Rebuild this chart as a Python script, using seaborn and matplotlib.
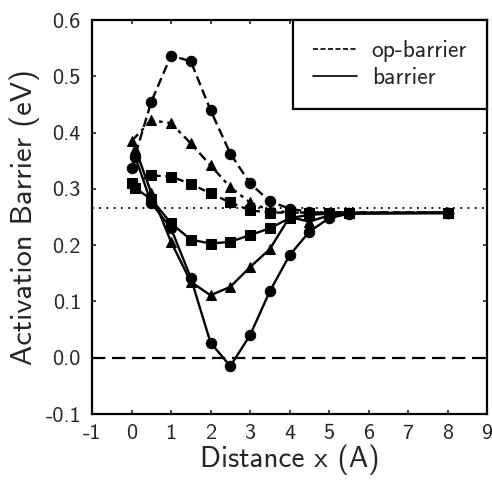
import numpy as np
import pandas as pd
import seaborn as sns
import matplotlib.pyplot as plt
from matplotlib.lines import Line2D

sns.set_style("ticks")
plt.rcParams['font.family'] = ['cmss10', 'DejaVu Sans']
plt.rcParams['axes.unicode_minus'] = False
plt.rcParams['axes.formatter.use_mathtext'] = False

# op-barrier (dashed) series
x_op = [0, 0.5, 1, 1.5, 2, 2.5, 3, 3.5, 4, 4.5, 5, 5.5, 8]
op_circle = [0.338, 0.455, 0.537, 0.527, 0.440, 0.363, 0.310, 0.278, 0.265, 0.259, 0.258, 0.258, 0.258]
op_triangle = [0.385, 0.422, 0.417, 0.381, 0.342, 0.303, 0.276, 0.262, 0.258, 0.258, 0.258, 0.258, 0.258]
op_square = [0.310, 0.324, 0.322, 0.309, 0.292, 0.276, 0.262, 0.258, 0.258, 0.258, 0.258, 0.258, 0.258]

# barrier (solid) series
x_b = [0.1, 0.5, 1, 1.5, 2, 2.5, 3, 3.5, 4, 4.5, 5, 5.5, 8]
b_circle = [0.356, 0.275, 0.230, 0.142, 0.027, -0.015, 0.040, 0.118, 0.182, 0.224, 0.248, 0.256, 0.258]
b_triangle = [0.371, 0.293, 0.206, 0.135, 0.111, 0.126, 0.161, 0.193, 0.250, 0.242, 0.253, 0.257, 0.257]
b_square = [0.301, 0.282, 0.239, 0.210, 0.203, 0.206, 0.218, 0.230, 0.248, 0.254, 0.256, 0.257, 0.257]

ref_level = 0.267

fig = plt.figure(figsize=(4.92, 4.80), dpi=100)
ax = fig.add_axes([0.187, 0.1375, 0.803, 0.8205])

series = [
    (x_op, op_circle, 'o', (0, (4, 2))),
    (x_op, op_triangle, '^', (0, (4, 2, 1.5, 2))),
    (x_op, op_square, 's', (0, (3, 2))),
    (x_b, b_circle, 'o', '-'),
    (x_b, b_triangle, '^', '-'),
    (x_b, b_square, 's', '-'),
]
for xs, ys, mk, ls in series:
    sns.lineplot(x=xs, y=ys, ax=ax, color='black', marker=mk, markersize=7.5,
                 markeredgecolor='black', linewidth=1.7, linestyle=ls, legend=False)

ax.axhline(ref_level, color='black', linestyle=(0, (1, 3)), linewidth=1.3)
ax.axhline(0.0, color='black', linestyle=(0, (6, 3)), linewidth=1.6)

ax.set_xlim(-1, 9)
ax.set_ylim(-0.1, 0.6)
ax.set_xticks(range(-1, 10))
ax.set_yticks(np.round(np.arange(-0.1, 0.61, 0.1), 1))
ax.set_yticklabels(['%.1f' % v for v in np.arange(-0.1, 0.61, 0.1)])
ax.tick_params(direction='in', length=3, width=1.2, labelsize=16, top=True, right=True, pad=8)
ax.tick_params(axis='x', pad=7)
for s in ax.spines.values():
    s.set_linewidth(1.6)
    s.set_color('black')

ax.set_xlabel('Distance x (A)', fontsize=21, labelpad=1)
ax.set_ylabel('Activation Barrier (eV)', fontsize=22, labelpad=4)

handles = [Line2D([], [], color='black', linestyle=(0, (3, 1.5)), linewidth=1.2),
           Line2D([], [], color='black', linestyle='-', linewidth=1.2)]
leg = ax.legend(handles, ['op-barrier', 'barrier'], loc='upper right', bbox_to_anchor=(1, 1),
                borderaxespad=0, fancybox=False, edgecolor='black', framealpha=1,
                fontsize=17, handlelength=1.9, borderpad=0.85, labelspacing=0.2,
                handletextpad=0.6)
leg.get_frame().set_linewidth(1.6)

fig.savefig('out.png', dpi=100)
